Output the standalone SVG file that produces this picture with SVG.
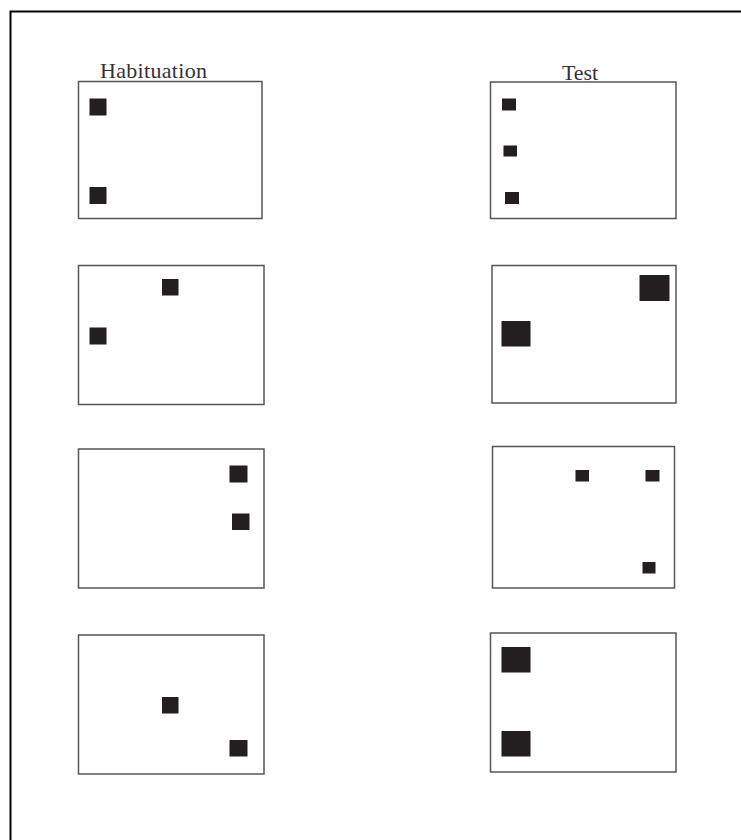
<svg xmlns="http://www.w3.org/2000/svg" width="741" height="840" viewBox="0 0 741 840">
<style>
.frame{fill:none;stroke:#000;stroke-width:2}
.panel{fill:#fff;stroke:#555;stroke-width:1.5}
.sq{fill:#231f20}
.lbl{font-family:"Liberation Serif","Times New Roman",serif;font-size:22px;fill:#333}
</style>
<rect width="741" height="840" fill="#fff"/>
<path class="frame" d="M10.5 840 V11.5 H741"/>
<text class="lbl" x="100" y="78" textLength="107">Habituation</text>
<text class="lbl" x="562" y="80" textLength="36">Test</text>
<g id="hab1">
<rect class="panel" x="78.5" y="81.5" width="183.5" height="137"/>
<rect class="sq" x="89.5" y="98.5" width="17" height="17"/>
<rect class="sq" x="89.5" y="187" width="17" height="17"/>
</g>
<g id="test1">
<rect class="panel" x="490.5" y="82" width="185.5" height="136.5"/>
<rect class="sq" x="502" y="98.5" width="14" height="12"/>
<rect class="sq" x="503.5" y="145.5" width="13.5" height="11"/>
<rect class="sq" x="505" y="192" width="14" height="12"/>
</g>
<g id="hab2">
<rect class="panel" x="78.5" y="265.5" width="185.5" height="139"/>
<rect class="sq" x="162" y="279" width="16.5" height="16.5"/>
<rect class="sq" x="89.5" y="327.5" width="17" height="17"/>
</g>
<g id="test2">
<rect class="panel" x="492" y="265.5" width="184" height="137.5"/>
<rect class="sq" x="639.5" y="275" width="30" height="26"/>
<rect class="sq" x="501.5" y="321" width="29" height="25.5"/>
</g>
<g id="hab3">
<rect class="panel" x="78.5" y="449" width="185.5" height="139"/>
<rect class="sq" x="229.5" y="465.5" width="18" height="17"/>
<rect class="sq" x="232" y="513.5" width="17.5" height="16.5"/>
</g>
<g id="test3">
<rect class="panel" x="492.5" y="446.5" width="182" height="141.5"/>
<rect class="sq" x="575.5" y="470" width="13.5" height="11.5"/>
<rect class="sq" x="645.5" y="470" width="14" height="11.5"/>
<rect class="sq" x="642.5" y="562" width="13" height="11.5"/>
</g>
<g id="hab4">
<rect class="panel" x="78.5" y="635" width="185.5" height="139"/>
<rect class="sq" x="162" y="697" width="16.5" height="16.5"/>
<rect class="sq" x="229.5" y="740" width="18" height="16.5"/>
</g>
<g id="test4">
<rect class="panel" x="490.5" y="633" width="185.5" height="139"/>
<rect class="sq" x="501.5" y="647" width="29" height="25.5"/>
<rect class="sq" x="501.5" y="731" width="29" height="25.5"/>
</g>
</svg>
